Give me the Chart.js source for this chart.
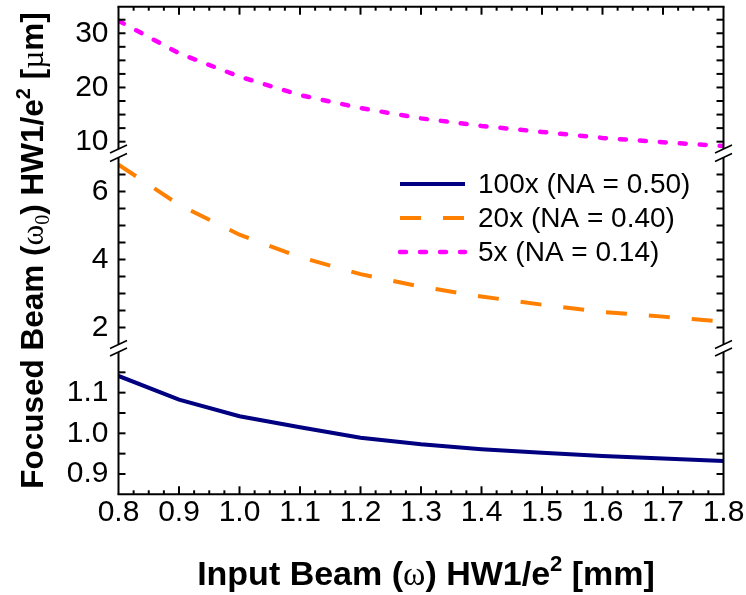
<!DOCTYPE html>
<html>
<head>
<meta charset="utf-8">
<script src="https://cdn.jsdelivr.net/npm/chart.js@4.4.1/dist/chart.umd.min.js"></script>
<style>
  html, body { margin: 0; padding: 0; background: #fff; }
  #wrap { width: 746px; height: 595px; position: relative; }
</style>
</head>
<body>
<div id="wrap"><canvas id="c"></canvas></div>
<script>
// Input beam radius (mm)
const inputBeam = [0.8, 0.9, 1.0, 1.1, 1.2, 1.3, 1.4, 1.5, 1.6, 1.7, 1.8];
// Focused spot radius (µm) for each objective
const obj100x = [1.141, 1.083, 1.042, 1.015, 0.989, 0.973, 0.961, 0.952, 0.944, 0.938, 0.932];
const obj20x  = [6.79, 5.61, 4.73, 4.07, 3.57, 3.20, 2.91, 2.67, 2.46, 2.32, 2.17];
const obj5x   = [32.3, 26.3, 22.0, 18.6, 16.2, 14.3, 12.9, 11.8, 10.7, 9.9, 9.2];
const seriesNames = ['100x (NA = 0.50)', '20x (NA = 0.40)', '5x (NA = 0.14)'];

// Labelled tick values
const xTickLabels    = [0.8, 0.9, 1.0, 1.1, 1.2, 1.3, 1.4, 1.5, 1.6, 1.7, 1.8];
const yTopTickLabels = [10, 20, 30];
const yMidTickLabels = [2, 4, 6];
const yLowTickLabels = [0.9, 1.0, 1.1];

const SANS = "'Liberation Sans', Arial, Helvetica, sans-serif";
const SERIF = "'Liberation Serif', 'Times New Roman', serif";

const has = (list, v) => list.some(t => Math.abs(t - v) < 1e-6);
const pickLabel = (list, digits) => v => has(list, v) ? Number(v).toFixed(digits) : '';

function segmentAxis(min, max, step, list, digits, stackWeight, order) {
  return {
    type: 'linear', position: 'left', stack: 'y', stackWeight, weight: order,
    min, max,
    grid: { display: false, drawTicks: false },
    border: { display: false },
    ticks: {
      stepSize: step, autoSkip: false, includeBounds: false, padding: 10,
      color: '#000', font: { family: SANS, size: 30 },
      callback: pickLabel(list, digits)
    },
    afterFit: s => { s.width = 70; s.paddingTop = 0; s.paddingBottom = 0; }
  };
}
function gapAxis(stackWeight, order) {
  return {
    type: 'linear', position: 'left', stack: 'y', stackWeight, weight: order,
    min: 0, max: 1,
    grid: { display: false, drawTicks: false },
    border: { display: false },
    ticks: { display: false },
    afterFit: s => { s.width = 70; s.paddingTop = 0; s.paddingBottom = 0; }
  };
}

const points = arr => inputBeam.map((x, i) => ({ x, y: arr[i] }));

function line(ctx, x1, y1, x2, y2) {
  ctx.beginPath(); ctx.moveTo(x1, y1); ctx.lineTo(x2, y2); ctx.stroke();
}

// Text made of runs with their own font and vertical shift
function drawRuns(ctx, runs, x, y) {
  let w = 0;
  runs.forEach(r => { ctx.font = r.font; r.w = ctx.measureText(r.t).width; w += r.w; });
  let cx = x - w / 2;
  ctx.textAlign = 'left';
  ctx.textBaseline = 'alphabetic';
  runs.forEach(r => { ctx.font = r.font; ctx.fillText(r.t, cx, y + (r.dy || 0)); cx += r.w; });
}

function titleRuns(size) {
  return {
    b: 'bold ' + size + 'px ' + SANS,
    s: size + 'px ' + SERIF,
    sup: 'bold ' + Math.round(size * 0.64) + 'px ' + SANS,
    sub: Math.round(size * 0.64) + 'px ' + SERIF,
    up: -Math.round(size * 0.4),
    down: Math.round(size * 0.2)
  };
}
const fx = titleRuns(34);
const fy = titleRuns(31.5);

const xTitle = [
  { t: 'Input Beam (', font: fx.b }, { t: 'ω', font: fx.s }, { t: ') HW1/e', font: fx.b },
  { t: '2', font: fx.sup, dy: fx.up }, { t: ' [mm]', font: fx.b }
];
const yTitle = [
  { t: 'Focused Beam (', font: fy.b }, { t: 'ω', font: fy.s }, { t: '0', font: fy.sub, dy: fy.down },
  { t: ') HW1/e', font: fy.b }, { t: '2', font: fy.sup, dy: fy.up }, { t: ' [', font: fy.b },
  { t: 'µ', font: fy.s }, { t: 'm]', font: fy.b }
];

const framePlugin = {
  id: 'frame',
  afterDraw(chart) {
    const ctx = chart.ctx, a = chart.chartArea;
    const segs = ['yTop', 'yMid', 'yLow'].map(id => chart.scales[id]);
    const xs = chart.scales.x;
    ctx.save();
    ctx.strokeStyle = '#000';
    ctx.lineWidth = 2;
    line(ctx, a.left - 1, a.top, a.right + 1, a.top);
    line(ctx, a.left - 1, a.bottom, a.right + 1, a.bottom);
    segs.forEach(s => {
      line(ctx, a.left, s.top, a.left, s.bottom);
      line(ctx, a.right, s.top, a.right, s.bottom);
      s.ticks.forEach(t => {
        const y = s.getPixelForValue(t.value);
        if (y < s.top + 3 || y > s.bottom - 3) return;
        line(ctx, a.left, y, a.left + 7, y);
        line(ctx, a.right - 7, y, a.right, y);
      });
    });
    xs.ticks.forEach(t => {
      const x = xs.getPixelForValue(t.value);
      if (x < a.left + 2 || x > a.right - 2) return;
      const len = has(xTickLabels, t.value) ? 8 : 4;
      line(ctx, x, a.bottom, x, a.bottom - len);
      line(ctx, x, a.top, x, a.top + len);
    });
    // axis break marks
    ctx.lineWidth = 1.5;
    [[segs[0].bottom, segs[1].top], [segs[1].bottom, segs[2].top]].forEach(([y1, y2]) => {
      [a.left, a.right].forEach(x => {
        line(ctx, x - 8.5, y1 + 4, x + 8.5, y1 - 4);
        line(ctx, x - 8.5, y2 + 4, x + 8.5, y2 - 4);
      });
    });

    // legend
    const rowY = [184, 218, 252];
    chart.data.datasets.forEach((ds, i) => {
      ctx.save();
      ctx.strokeStyle = ds.borderColor;
      ctx.lineWidth = ds.borderWidth;
      ctx.lineCap = ds.borderCapStyle || 'butt';
      ctx.setLineDash(ds.borderDash || []);
      line(ctx, 400, rowY[i], 465, rowY[i]);
      ctx.restore();
      ctx.fillStyle = '#000';
      ctx.font = '28px ' + SANS;
      ctx.textAlign = 'left';
      ctx.textBaseline = 'middle';
      ctx.fillText(ds.label, 478, rowY[i] + 1);
    });

    // axis titles
    ctx.fillStyle = '#000';
    drawRuns(ctx, xTitle, (a.left + a.right) / 2 + 5, 585);
    ctx.save();
    ctx.translate(43, (a.top + a.bottom) / 2);
    ctx.rotate(-Math.PI / 2);
    drawRuns(ctx, yTitle, 0, 0);
    ctx.restore();
    ctx.restore();
  }
};

new Chart(document.getElementById('c'), {
  type: 'line',
  data: {
    datasets: [
      { label: seriesNames[0], data: points(obj100x), yAxisID: 'yLow',
        borderColor: '#000080', borderWidth: 4, borderCapStyle: 'butt', borderDash: [] },
      { label: seriesNames[1], data: points(obj20x), yAxisID: 'yMid',
        borderColor: '#ff8000', borderWidth: 4, borderCapStyle: 'butt', borderDash: [21, 22] },
      { label: seriesNames[2], data: points(obj5x), yAxisID: 'yTop',
        borderColor: '#ff00ff', borderWidth: 4.5, borderCapStyle: 'round', borderDash: [6, 14] }
    ]
  },
  options: {
    responsive: true,
    maintainAspectRatio: false,
    animation: false,
    layout: { padding: { left: 48.5, right: 22.5, top: 6.7, bottom: 0 } },
    elements: { point: { radius: 0 }, line: { tension: 0, fill: false } },
    plugins: { legend: { display: false }, tooltip: { enabled: false } },
    scales: {
      x: {
        type: 'linear', position: 'bottom', min: 0.8, max: 1.8,
        grid: { display: false, drawTicks: false },
        border: { display: false },
        ticks: {
          stepSize: 0.025, autoSkip: false, includeBounds: false,
          maxRotation: 0, minRotation: 0, padding: 0,
          color: '#000', font: { family: SANS, size: 30 },
          callback: pickLabel(xTickLabels, 1)
        },
        afterFit: s => { s.height = 100.7; s.paddingLeft = 0; s.paddingRight = 0; }
      },
      yLow: segmentAxis(0.85, 1.2, 0.05, yLowTickLabels, 1, 142.3, 1),
      gapLow: gapAxis(7.5, 2),
      yMid: segmentAxis(1.5, 7.0, 0.5, yMidTickLabels, 0, 187, 3),
      gapTop: gapAxis(8.5, 4),
      yTop: segmentAxis(8.65, 34.9, 2.5, yTopTickLabels, 0, 142.3, 5)
    }
  },
  plugins: [framePlugin]
});
</script>
</body>
</html>
